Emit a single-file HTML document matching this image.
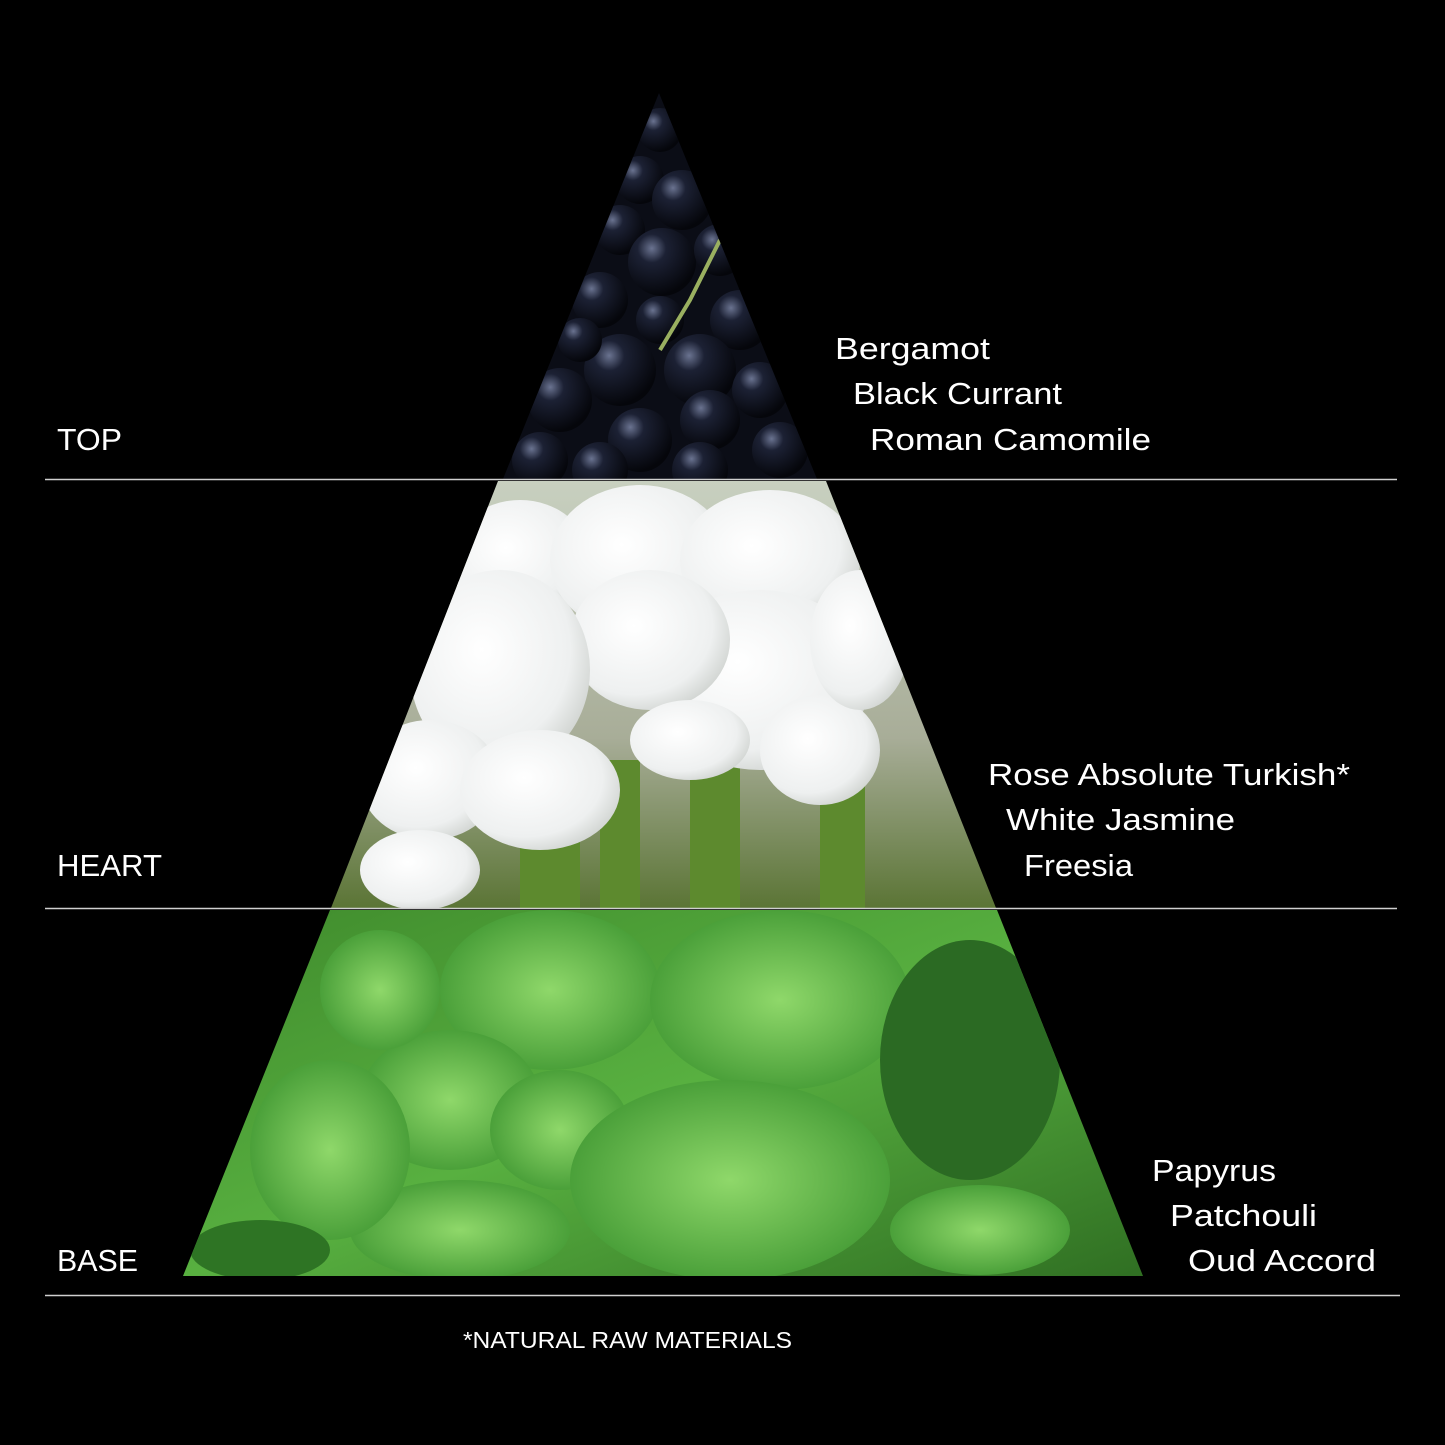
<!DOCTYPE html>
<html><head><meta charset="utf-8"><style>
html,body{margin:0;padding:0;background:#000;}
svg{display:block}
text{font-family:"Liberation Sans",sans-serif;fill:#fff;}
</style></head><body>
<svg width="1445" height="1445" viewBox="0 0 1445 1445" xmlns="http://www.w3.org/2000/svg">
<defs>
<clipPath id="t1"><polygon points="659,93 817,479 503,479"/></clipPath>
<clipPath id="t2"><polygon points="498,481 826,481 996,908 331,908"/></clipPath>
<clipPath id="t3"><polygon points="330,910 997,910 1143,1276 183,1276"/></clipPath>
<radialGradient id="berry" cx="0.35" cy="0.3" r="0.7">
<stop offset="0" stop-color="#6a7390"/><stop offset="0.3" stop-color="#1c2134"/><stop offset="1" stop-color="#05060b"/></radialGradient>
<linearGradient id="heartbg" x1="0" y1="0" x2="0" y2="1">
<stop offset="0" stop-color="#c8d0c0"/><stop offset="0.6" stop-color="#a8ad98"/><stop offset="1" stop-color="#5a7434"/></linearGradient>
<radialGradient id="petal" cx="0.4" cy="0.4" r="0.7">
<stop offset="0" stop-color="#ffffff"/><stop offset="0.7" stop-color="#eef0f0"/><stop offset="1" stop-color="#c8ccc8"/></radialGradient>
<linearGradient id="basebg" x1="0" y1="0" x2="1" y2="1">
<stop offset="0" stop-color="#3f8a2c"/><stop offset="0.5" stop-color="#58b040"/><stop offset="1" stop-color="#2f6e22"/></linearGradient>
<radialGradient id="leaf" cx="0.5" cy="0.5" r="0.6">
<stop offset="0" stop-color="#8fd86a"/><stop offset="1" stop-color="#3d9530"/></radialGradient>
</defs>
<rect width="1445" height="1445" fill="#000"/>

<g clip-path="url(#t1)">
<rect x="500" y="90" width="320" height="390" fill="#0b0d16"/>
<g fill="url(#berry)">
<circle cx="660" cy="130" r="22"/><circle cx="640" cy="180" r="24"/><circle cx="682" cy="200" r="30"/>
<circle cx="620" cy="230" r="25"/><circle cx="662" cy="262" r="34"/><circle cx="720" cy="250" r="26"/>
<circle cx="600" cy="300" r="28"/><circle cx="740" cy="320" r="30"/><circle cx="700" cy="370" r="36"/>
<circle cx="620" cy="370" r="36"/><circle cx="560" cy="400" r="32"/><circle cx="760" cy="390" r="28"/>
<circle cx="640" cy="440" r="32"/><circle cx="710" cy="420" r="30"/><circle cx="780" cy="450" r="28"/>
<circle cx="540" cy="460" r="28"/><circle cx="600" cy="470" r="28"/><circle cx="700" cy="470" r="28"/>
<circle cx="580" cy="340" r="22"/><circle cx="660" cy="320" r="24"/>
</g>
<path d="M720 240 L690 300 L660 350" stroke="#9ab060" stroke-width="4" fill="none"/>
</g>

<g clip-path="url(#t2)">
<rect x="330" y="480" width="670" height="430" fill="url(#heartbg)"/>
<g fill="#5d8a2e">
<rect x="600" y="760" width="40" height="150"/><rect x="690" y="740" width="50" height="170"/>
<rect x="820" y="730" width="45" height="180"/><rect x="520" y="820" width="60" height="90"/>
</g>
<g fill="url(#petal)">
<ellipse cx="520" cy="560" rx="70" ry="60"/><ellipse cx="640" cy="560" rx="90" ry="75"/>
<ellipse cx="770" cy="560" rx="90" ry="70"/><ellipse cx="760" cy="680" rx="110" ry="90"/>
<ellipse cx="650" cy="640" rx="80" ry="70"/><ellipse cx="820" cy="750" rx="60" ry="55"/>
<ellipse cx="500" cy="670" rx="90" ry="100"/><ellipse cx="430" cy="780" rx="70" ry="60"/>
<ellipse cx="540" cy="790" rx="80" ry="60"/><ellipse cx="420" cy="870" rx="60" ry="40"/>
<ellipse cx="690" cy="740" rx="60" ry="40"/><ellipse cx="860" cy="640" rx="50" ry="70"/>
</g>
</g>

<g clip-path="url(#t3)">
<rect x="180" y="908" width="970" height="370" fill="url(#basebg)"/>
<g fill="url(#leaf)">
<ellipse cx="550" cy="990" rx="110" ry="80"/><ellipse cx="780" cy="1000" rx="130" ry="90"/>
<ellipse cx="450" cy="1100" rx="90" ry="70"/><ellipse cx="560" cy="1130" rx="70" ry="60"/>
<ellipse cx="730" cy="1180" rx="160" ry="100"/><ellipse cx="460" cy="1230" rx="110" ry="50"/>
<ellipse cx="330" cy="1150" rx="80" ry="90"/><ellipse cx="980" cy="1230" rx="90" ry="45"/>
<ellipse cx="380" cy="990" rx="60" ry="60"/>
</g>
<ellipse cx="970" cy="1060" rx="90" ry="120" fill="#2b6a23"/>
<ellipse cx="260" cy="1250" rx="70" ry="30" fill="#2e7424"/>
</g>

<g stroke="#cfcfcf" stroke-width="1.5">
<line x1="45" y1="479.5" x2="1397" y2="479.5"/>
<line x1="45" y1="908.5" x2="1397" y2="908.5"/>
<line x1="45" y1="1295.5" x2="1400" y2="1295.5"/>
</g>

<g font-size="31">
<text x="57" y="450" textLength="65" lengthAdjust="spacingAndGlyphs">TOP</text>
<text x="57" y="876" textLength="105" lengthAdjust="spacingAndGlyphs">HEART</text>
<text x="57" y="1271" textLength="81" lengthAdjust="spacingAndGlyphs">BASE</text>
<text x="835" y="359" textLength="155" lengthAdjust="spacingAndGlyphs">Bergamot</text>
<text x="853" y="404" textLength="209" lengthAdjust="spacingAndGlyphs">Black Currant</text>
<text x="870" y="450" textLength="281" lengthAdjust="spacingAndGlyphs">Roman Camomile</text>
<text x="988" y="785" textLength="362" lengthAdjust="spacingAndGlyphs">Rose Absolute Turkish*</text>
<text x="1006" y="830" textLength="229" lengthAdjust="spacingAndGlyphs">White Jasmine</text>
<text x="1024" y="876" textLength="109" lengthAdjust="spacingAndGlyphs">Freesia</text>
<text x="1152" y="1181" textLength="124" lengthAdjust="spacingAndGlyphs">Papyrus</text>
<text x="1170" y="1226" textLength="147" lengthAdjust="spacingAndGlyphs">Patchouli</text>
<text x="1188" y="1271" textLength="188" lengthAdjust="spacingAndGlyphs">Oud Accord</text>
</g>
<text x="463" y="1348" font-size="23" textLength="329" lengthAdjust="spacingAndGlyphs">*NATURAL RAW MATERIALS</text>
</svg>
</body></html>
